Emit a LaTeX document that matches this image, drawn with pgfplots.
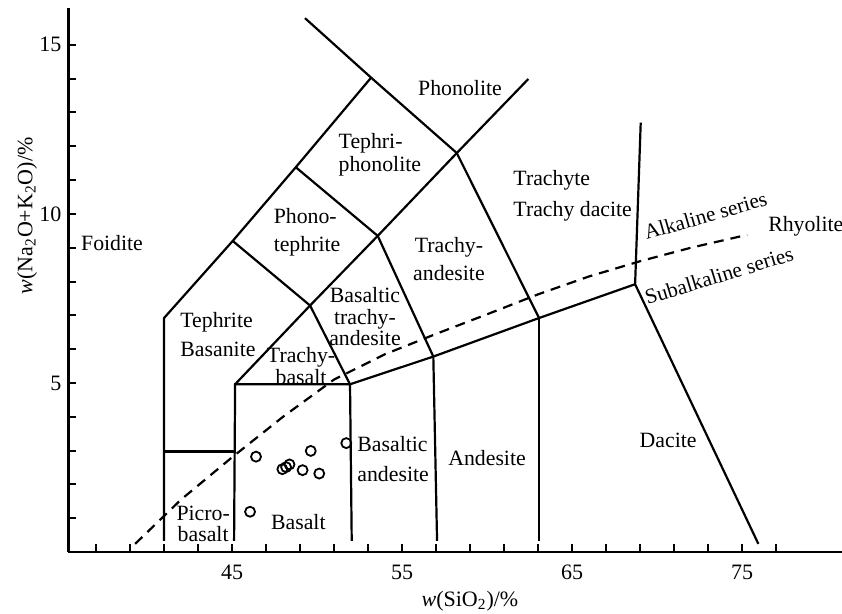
\documentclass[border=0pt]{standalone}
\usepackage{fontspec}
\setmainfont{Liberation Serif}
\usepackage{pgfplots}
\pgfplotsset{compat=1.18}
\begin{document}
\begin{tikzpicture}
\begin{axis}[
  scale only axis, width=386.75pt, height=272pt,
  xmin=35.38, xmax=80.88, ymin=0, ymax=16.09,
  axis x line=bottom, axis y line=left,
  axis line style={-, line width=1.2pt},
  xtick={45,55,65,75}, minor xtick={37,39,...,77},
  ytick={5,10,15}, minor ytick={1,...,15},
  tick align=inside,
  major tick length=4pt, minor tick length=4pt,
  tick style={line width=1pt, black},
  /pgf/number format/assume math mode=true,
  ticklabel style={font=\fontsize{11}{12}\selectfont},
  xticklabel style={yshift=-3pt},
  xlabel={\textit{w}(SiO\textsubscript{2})/\%},
  ylabel={\textit{w}(Na\textsubscript{2}O+K\textsubscript{2}O)/\%},
  label style={font=\fontsize{11}{12}\selectfont},
  xlabel style={at={(axis description cs:0.519,-0.090)}, anchor=center},
  ylabel style={at={(axis description cs:-0.0537,0.618)}, anchor=center},
  clip=false,
  bd/.style={black, line width=1.1pt, no markers},
]
% boundaries
\addplot[bd] coordinates {(41.0,0.33) (41.0,6.92) (45.04,9.20) (48.75,11.38) (53.18,14.03)};
\addplot[bd] coordinates {(49.29,15.79) (53.18,14.03) (58.22,11.80)};
\addplot[bd] coordinates {(45.18,4.96) (49.59,7.29) (53.57,9.35) (58.22,11.80) (62.43,13.99)};
\addplot[bd] coordinates {(45.04,9.20) (49.59,7.29) (51.94,4.96)};
\addplot[bd] coordinates {(48.75,11.38) (53.57,9.35) (56.84,5.78)};
\addplot[bd] coordinates {(58.22,11.80) (63.06,6.92)};
\addplot[bd] coordinates {(41.0,2.97) (45.15,2.97)};
\addplot[bd] coordinates {(45.12,0.33) (45.18,4.96) (51.94,4.96) (52.04,0.33)};
\addplot[bd] coordinates {(51.94,4.96) (56.84,5.78) (63.06,6.92) (68.71,7.92) (75.96,0.24)};
\addplot[bd] coordinates {(56.84,5.78) (57.06,0.33)};
\addplot[bd] coordinates {(63.06,6.92) (63.06,0.33)};
\addplot[bd] coordinates {(68.71,7.92) (69.04,12.70)};
% alkaline / subalkaline divide
\addplot[black, line width=1.1pt, no markers, dash pattern=on 5pt off 3.5pt] coordinates {
 (39.3,0.24) (42,1.55) (45,2.8) (48,4.0) (51,5.1) (54,5.85) (57,6.45) (60,7.03)
 (63,7.62) (66,8.15) (69,8.6) (72,9.0) (75.3,9.38)};
% samples
\addplot[only marks, mark=o, mark size=2.5pt, mark options={line width=0.9pt, black}] coordinates {
 (46.41,2.82) (46.06,1.19) (47.96,2.45) (48.18,2.51) (48.38,2.59)
 (49.15,2.42) (49.63,2.99) (50.13,2.32) (51.72,3.22)};
% labels
\tikzset{lb/.style={font=\fontsize{10.9}{12.5}\selectfont, align=center, inner sep=0pt}}
\node[lb] at (axis cs:58.41,13.73) {Phonolite};
\node[lb, anchor=west, align=left, font=\fontsize{10.9}{11.7}\selectfont] at (axis cs:51.25,11.75) {Tephri-\\phonolite};
\node[lb, anchor=west, align=left, font=\fontsize{10.9}{15.5}\selectfont] at (axis cs:61.53,10.53) {Trachyte\\Trachy dacite};
\node[lb] at (axis cs:37.94,9.14) {Foidite};
\node[lb, anchor=west, align=left, font=\fontsize{10.9}{14}\selectfont] at (axis cs:47.43,9.45) {Phono-\\tephrite};
\node[lb, font=\fontsize{10.9}{14}\selectfont] at (axis cs:57.76,8.67) {Trachy-\\andesite};
\node[lb, anchor=west, align=left, font=\fontsize{10.9}{14.5}\selectfont] at (axis cs:41.94,6.43) {Tephrite\\Basanite};
\node[lb, font=\fontsize{10.9}{10.85}\selectfont] at (axis cs:52.82,6.96) {Basaltic\\trachy-\\andesite};
\node[lb, font=\fontsize{10.9}{10.85}\selectfont] at (axis cs:49.06,5.50) {Trachy-\\basalt};
\node[lb, font=\fontsize{10.9}{10.4}\selectfont] at (axis cs:43.3,0.84) {Picro-\\basalt};
\node[lb] at (axis cs:48.9,0.90) {Basalt};
\node[lb, anchor=west, align=left, font=\fontsize{10.9}{15}\selectfont] at (axis cs:52.35,2.75) {Basaltic\\andesite};
\node[lb] at (axis cs:60.0,2.78) {Andesite};
\node[lb] at (axis cs:70.65,3.31) {Dacite};
\node[lb] at (axis cs:78.75,9.62) {Rhyolite};
\node[lb, rotate=16, font=\fontsize{10.6}{12}\selectfont] at (axis cs:72.85,9.95) {Alkaline series};
\node[lb, rotate=17, font=\fontsize{10.6}{12}\selectfont] at (axis cs:73.65,8.18) {Subalkaline series};
\end{axis}
\pgfresetboundingbox
\path[use as bounding box] ([xshift=-34.25pt,yshift=-31pt]current axis.south west) rectangle ([yshift=4pt]current axis.north east);
\end{tikzpicture}
\end{document}
